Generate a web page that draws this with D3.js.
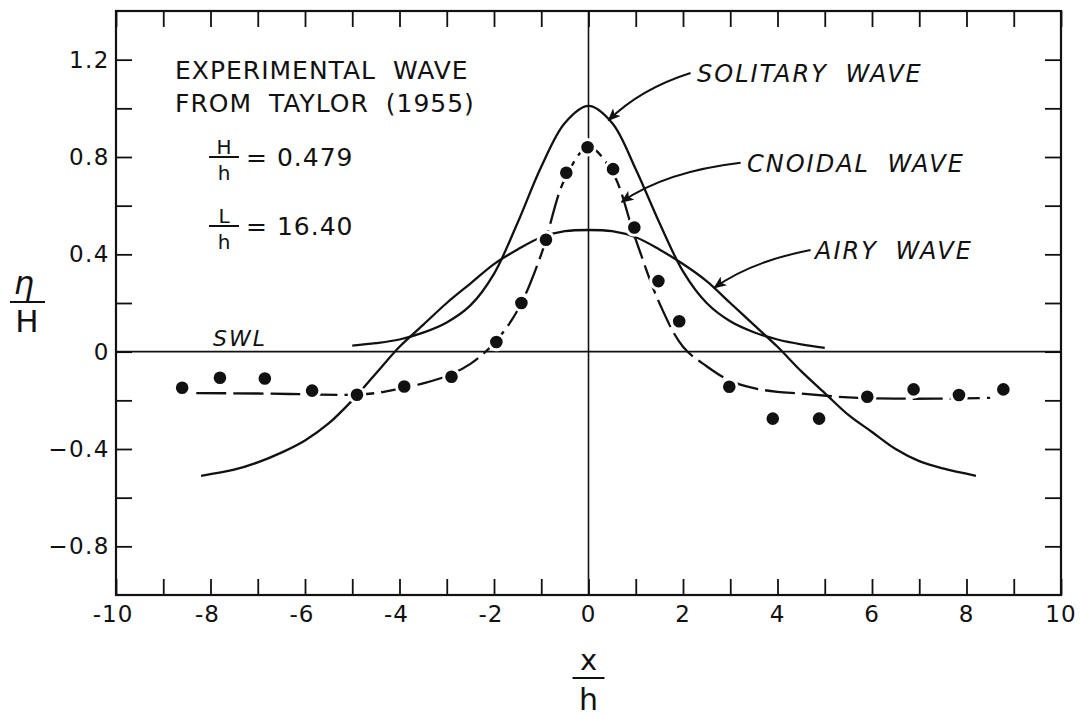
<!DOCTYPE html>
<html>
<head>
<meta charset="utf-8">
<script src="https://cdn.jsdelivr.net/npm/d3@7"></script>
<style>
  html, body { margin: 0; padding: 0; background: #fff; }
  svg { display: block; }
  text { font-family: "DejaVu Sans", "Liberation Sans", sans-serif; fill: #111; }
</style>
</head>
<body>
<svg id="chart" width="1085" height="717"></svg>
<script>
// ---------------- data ----------------
const xTickValues = d3.range(-10, 11, 1);
const xTickLabels = [-10, -8, -6, -4, -2, 0, 2, 4, 6, 8, 10];
const yTickValues = [-0.8, -0.6, -0.4, -0.2, 0, 0.2, 0.4, 0.6, 0.8, 1.0, 1.2];
const yTickLabels = [-0.8, -0.4, 0, 0.4, 0.8, 1.2];

const solitaryX = [-5.0, -4.5, -4.0, -3.5, -3.0, -2.5, -2.0, -1.5, -1.0, -0.5, 0, 0.5, 1.0, 1.5, 2.0, 2.5, 3.0, 3.5, 4.0, 4.5, 5.0];
const solitaryY = [0.025, 0.035, 0.05, 0.078, 0.12, 0.19, 0.32, 0.53, 0.76, 0.94, 1.01, 0.94, 0.75, 0.53, 0.33, 0.2, 0.125, 0.08, 0.05, 0.03, 0.016];

const airyX = [-8.2, -7.5, -7, -6.5, -6, -5.5, -5, -4.5, -4, -3.5, -3, -2.5, -2, -1.5, -1, -0.5, 0, 0.5, 1, 1.5, 2, 2.5, 3, 3.5, 4, 4.5, 5, 5.5, 6, 6.5, 7, 7.5, 8.2];
const airyY = [-0.51, -0.485, -0.455, -0.415, -0.365, -0.295, -0.2, -0.09, 0.02, 0.11, 0.2, 0.28, 0.36, 0.42, 0.47, 0.495, 0.5, 0.495, 0.47, 0.42, 0.36, 0.29, 0.2, 0.11, 0.02, -0.08, -0.17, -0.26, -0.33, -0.4, -0.45, -0.48, -0.51];

const cnoidalX = [-8.3, -7, -6, -5, -4.5, -4, -3.5, -3, -2.5, -2, -1.5, -1, -0.5, 0, 0.5, 1, 1.5, 2, 2.5, 3, 3.5, 4, 4.5, 5.5, 6.5, 7.5, 8.5];
const cnoidalY = [-0.17, -0.172, -0.175, -0.177, -0.17, -0.152, -0.13, -0.1, -0.05, 0.035, 0.17, 0.4, 0.71, 0.84, 0.74, 0.46, 0.2, 0.02, -0.06, -0.12, -0.15, -0.165, -0.172, -0.188, -0.193, -0.193, -0.19];

const expX = [-8.6, -7.8, -6.85, -5.85, -4.9, -3.9, -2.9, -1.95, -1.42, -0.9, -0.47, -0.02, 0.52, 0.97, 1.48, 1.92, 2.98, 3.9, 4.88, 5.9, 6.88, 7.84, 8.78];
const expY = [-0.148, -0.107, -0.11, -0.16, -0.177, -0.143, -0.103, 0.04, 0.2, 0.46, 0.735, 0.84, 0.75, 0.51, 0.29, 0.125, -0.144, -0.275, -0.275, -0.185, -0.155, -0.178, -0.155];

// ---------------- layout ----------------
const svg = d3.select("#chart");
const x = d3.scaleLinear().domain([-10, 10]).range([116, 1061]);
const y = d3.scaleLinear().domain([-1.0, 1.4]).range([595, 11]);

const defs = svg.append("defs");
defs.append("marker")
  .attr("id", "arrow").attr("viewBox", "0 0 12 10")
  .attr("refX", 11).attr("refY", 5)
  .attr("markerWidth", 13).attr("markerHeight", 11)
  .attr("markerUnits", "userSpaceOnUse")
  .attr("orient", "auto")
  .append("path").attr("d", "M0,0 L12,5 L0,10 L3,5 Z").attr("fill", "#111");

// frame
svg.append("rect")
  .attr("x", x(-10)).attr("y", y(1.4))
  .attr("width", x(10) - x(-10)).attr("height", y(-1.0) - y(1.4))
  .attr("fill", "none").attr("stroke", "#111").attr("stroke-width", 2.2);

// axes with inward ticks
const tickLen = 16;
const axB = d3.axisBottom(x).tickValues(xTickValues).tickSize(-tickLen).tickFormat("");
const axT = d3.axisTop(x).tickValues(xTickValues).tickSize(-tickLen).tickFormat("");
const axL = d3.axisLeft(y).tickValues(yTickValues).tickSize(-tickLen).tickFormat("");
const axR = d3.axisRight(y).tickValues(yTickValues).tickSize(-tickLen).tickFormat("");
function styleAxis(g) {
  g.select(".domain").remove();
  g.selectAll(".tick line").attr("stroke", "#111").attr("stroke-width", 1.8);
}
svg.append("g").attr("transform", `translate(0,${y(-1.0)})`).call(axB).call(styleAxis);
svg.append("g").attr("transform", `translate(0,${y(1.4)})`).call(axT).call(styleAxis);
svg.append("g").attr("transform", `translate(${x(-10)},0)`).call(axL).call(styleAxis);
svg.append("g").attr("transform", `translate(${x(10)},0)`).call(axR).call(styleAxis);

// tick labels
svg.append("g").selectAll("text").data(xTickLabels).join("text")
  .attr("x", d => x(d) + (d < 0 ? -3 : 0)).attr("y", 622)
  .attr("text-anchor", "middle")
  .attr("font-size", 23).attr("letter-spacing", 1)
  .text(d => d < 0 ? "-" + Math.abs(d) : String(d));
svg.append("g").selectAll("text").data(yTickLabels).join("text")
  .attr("x", 110).attr("y", d => y(d) + 8)
  .attr("text-anchor", "end")
  .attr("font-size", 23).attr("letter-spacing", 1.5)
  .text(d => d === 0 ? "0" : (d < 0 ? "\u2212" : "") + Math.abs(d).toFixed(1));

// reference lines: SWL and x = 0
svg.append("line").attr("x1", x(-10)).attr("x2", x(10)).attr("y1", y(0)).attr("y2", y(0))
  .attr("stroke", "#111").attr("stroke-width", 1.6);
svg.append("line").attr("x1", x(0)).attr("x2", x(0)).attr("y1", y(1.4)).attr("y2", y(-1.0))
  .attr("stroke", "#111").attr("stroke-width", 1.6);

// curves
const line = d3.line().x(d => x(d[0])).y(d => y(d[1])).curve(d3.curveCatmullRom.alpha(0.5));
const curves = svg.append("g").attr("fill", "none").attr("stroke", "#111").attr("stroke-width", 2.3);
curves.append("path").attr("d", line(d3.zip(solitaryX, solitaryY)));
curves.append("path").attr("d", line(d3.zip(airyX, airyY)));
curves.append("path").attr("d", line(d3.zip(cnoidalX, cnoidalY))).attr("stroke-dasharray", "30,7");

// experimental points
svg.append("g").selectAll("circle").data(d3.zip(expX, expY)).join("circle")
  .attr("cx", d => x(d[0])).attr("cy", d => y(d[1])).attr("r", 7.8)
  .attr("fill", "#111").attr("stroke", "#fff").attr("stroke-width", 3);

// annotation arrows
const arrows = [
  { from: [2.16, 1.145], ctrl: [1.1, 1.08], to: [0.42, 0.95] },
  { from: [3.22, 0.776], ctrl: [1.63, 0.74], to: [0.70, 0.615] },
  { from: [4.7, 0.418], ctrl: [3.43, 0.37], to: [2.66, 0.262] }
];
svg.append("g").selectAll("path").data(arrows).join("path")
  .attr("d", d => `M${x(d.from[0])},${y(d.from[1])} Q${x(d.ctrl[0])},${y(d.ctrl[1])} ${x(d.to[0])},${y(d.to[1])}`)
  .attr("fill", "none").attr("stroke", "#111").attr("stroke-width", 2)
  .attr("marker-end", "url(#arrow)");

// curve labels (italic)
const labels = [
  { t: "SOLITARY WAVE", px: 697, py: 82 },
  { t: "CNOIDAL WAVE", px: 747, py: 172 },
  { t: "AIRY WAVE", px: 815, py: 259 },
  { t: "SWL", px: 213, py: 346 }
];
svg.append("g").selectAll("text").data(labels).join("text")
  .attr("x", d => d.px).attr("y", d => d.py)
  .attr("font-size", d => d.t === "SWL" ? 22 : 24).attr("font-style", "italic")
  .attr("letter-spacing", 2).attr("word-spacing", 8)
  .text(d => d.t);

// experiment text block
const info = svg.append("g");
info.append("text").attr("x", 175).attr("y", 79).attr("font-size", 25)
  .attr("letter-spacing", 1).attr("word-spacing", 8).text("EXPERIMENTAL WAVE");
info.append("text").attr("x", 175).attr("y", 112).attr("font-size", 25)
  .attr("letter-spacing", 1).attr("word-spacing", 8).text("FROM TAYLOR (1955)");
function frac(g, cx, barY, top, bottom, w, fs) {
  g.append("text").attr("x", cx).attr("y", barY - 3).attr("text-anchor", "middle").attr("font-size", fs).text(top);
  g.append("line").attr("x1", cx - w / 2).attr("x2", cx + w / 2).attr("y1", barY).attr("y2", barY)
    .attr("stroke", "#111").attr("stroke-width", 2);
  g.append("text").attr("x", cx).attr("y", barY + fs + 3).attr("text-anchor", "middle").attr("font-size", fs).text(bottom);
}
frac(info, 224, 157, "H", "h", 30, 20);
info.append("text").attr("x", 246).attr("y", 166).attr("font-size", 25).attr("letter-spacing", 1).text("= 0.479");
frac(info, 224, 226, "L", "h", 30, 20);
info.append("text").attr("x", 246).attr("y", 235).attr("font-size", 25).attr("letter-spacing", 1).text("= 16.40");

// axis titles
const yt = svg.append("g");
yt.append("text").attr("x", 24).attr("y", 294).attr("text-anchor", "middle")
  .attr("font-size", 32).attr("font-style", "italic").text("\u03b7");
yt.append("line").attr("x1", 10).attr("x2", 45).attr("y1", 302).attr("y2", 302).attr("stroke", "#111").attr("stroke-width", 2.2);
yt.append("text").attr("x", 27).attr("y", 332).attr("text-anchor", "middle").attr("font-size", 31).text("H");

const xt = svg.append("g");
xt.append("text").attr("x", x(0)).attr("y", 670).attr("text-anchor", "middle").attr("font-size", 29).text("x");
xt.append("line").attr("x1", x(0) - 16).attr("x2", x(0) + 16).attr("y1", 678).attr("y2", 678).attr("stroke", "#111").attr("stroke-width", 2.2);
xt.append("text").attr("x", x(0)).attr("y", 710).attr("text-anchor", "middle").attr("font-size", 30).text("h");
</script>
</body>
</html>
